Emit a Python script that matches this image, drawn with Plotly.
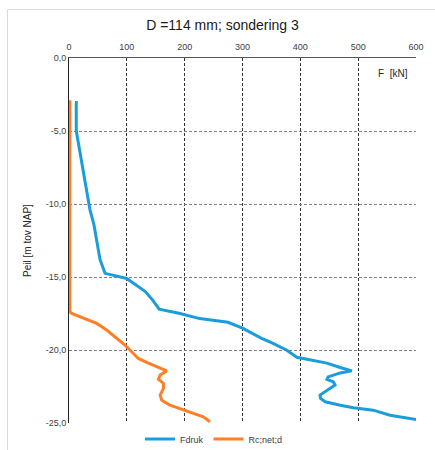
import plotly.graph_objects as go

# Fdruk (blue)
fdruk_depth = [-2.95, -3.2, -5.0, -6.0, -7.4, -8.5, -9.3, -10.4, -11.4, -12.5, -13.8, -14.75,
               -15.1, -16.0, -16.6, -17.2, -17.5, -17.85, -18.1, -18.5, -19.2, -19.5, -20.0,
               -20.5, -20.7, -20.9, -21.2, -21.43, -21.57, -21.84, -22.02, -22.18, -22.4,
               -22.75, -23.09, -23.32, -23.55, -23.78, -23.96, -24.12, -24.47, -24.76]
fdruk_value = [13, 12.5, 12.6, 17, 23.6, 28, 31.7, 36.3, 43, 48, 53.6, 62.3,
               99.8, 132, 145, 156, 192, 226, 275, 300, 333, 350, 376,
               394, 417, 446, 469, 489, 469, 448, 446, 457, 460,
               446, 434, 435, 443, 469, 492, 526, 555, 601]

# Rc;net;d (orange)
rc_depth = [-2.9, -17.38, -17.49, -17.83, -18.18, -18.63, -19.2, -19.66, -20.12, -20.58,
            -20.85, -21.15, -21.43, -21.72, -22.0, -22.29, -22.63, -23.09, -23.44, -23.78,
            -24.12, -24.35, -24.58, -24.92]
rc_value = [1.5, 1.5, 4.7, 24.7, 47.9, 65.2, 82.5, 96.8, 108.4, 119.9,
            134.4, 151.7, 169, 157.6, 154.7, 163.3, 163.3, 157.6, 160.5, 174.6,
            197.6, 214.9, 232.2, 243.8]

x_ticks = [0, 100, 200, 300, 400, 500, 600]
y_ticks = [0, -5, -10, -15, -20, -25]
y_ticktext = ["0,0", "-5,0", "-10,0", "-15,0", "-20,0", "-25,0"]

FONT = "Arial, Liberation Sans, sans-serif"
BLUE = "#1B9DDB"
ORANGE = "#FF7F27"

fig = go.Figure()
fig.add_trace(go.Scatter(x=fdruk_value, y=fdruk_depth, mode="lines", name="Fdruk",
                         line=dict(color=BLUE, width=3)))
fig.add_trace(go.Scatter(x=rc_value, y=rc_depth, mode="lines", name="Rc;net;d",
                         line=dict(color=ORANGE, width=3)))

W, H = 435, 450
L, R, T, B = 69, 19, 58, 27
pw, ph = W - L - R, H - T - B

def px_to_paper_x(px):
    return (px - L) / pw

def py_to_paper_y(py):
    return (H - B - py) / ph

fig.update_layout(
    width=W, height=H,
    margin=dict(l=L, r=R, t=T, b=B, pad=0),
    paper_bgcolor="white", plot_bgcolor="white",
    font=dict(family=FONT, size=9, color="#404040"),
    title=dict(text="D =114 mm; sondering 3", x=222.5 / W, xref="container",
               xanchor="center", y=1 - 25 / H, yref="container", yanchor="middle",
               font=dict(family=FONT, size=14, color="#1a1a1a")),
    showlegend=True,
    legend=dict(orientation="h", x=214 / W, xref="container", xanchor="center",
                y=1 - 439 / H, yref="container", yanchor="middle",
                font=dict(family=FONT, size=9, color="#404040"),
                bgcolor="rgba(0,0,0,0)", itemwidth=30),
    xaxis=dict(side="top", range=[0, 600], tickvals=x_ticks, ticks="",
               showgrid=True, gridcolor="#333333", griddash="3px,2px", gridwidth=1,
               showline=True, linecolor="#555555", linewidth=1, mirror=False,
               zeroline=False, tickfont=dict(size=9, color="#404040"), fixedrange=True,
               automargin=False, ticklabelstandoff=3),
    yaxis=dict(range=[-25, 0], tickvals=y_ticks, ticktext=y_ticktext, ticks="",
               showgrid=True, gridcolor="#808080", griddash="3px,2px", gridwidth=1,
               showline=True, linecolor="#222222", linewidth=1, mirror=False,
               zeroline=False, tickfont=dict(size=9, color="#404040"), automargin=False,
               title=dict(text="Peil [m tov NAP]", font=dict(size=10, color="#262626"),
                          standoff=12)),
    annotations=[dict(text="F  [kN]", x=px_to_paper_x(393), y=py_to_paper_y(73),
                      xref="paper", yref="paper", showarrow=False, xanchor="center",
                      yanchor="middle", font=dict(family=FONT, size=10, color="#262626"))],
    shapes=[dict(type="rect", xref="paper", yref="paper",
                 x0=px_to_paper_x(7.5), x1=px_to_paper_x(460),
                 y0=py_to_paper_y(480), y1=py_to_paper_y(9.5),
                 line=dict(color="#d9d9d9", width=1), fillcolor="rgba(0,0,0,0)",
                 layer="below")],
)

fig.write_html("out.html")
